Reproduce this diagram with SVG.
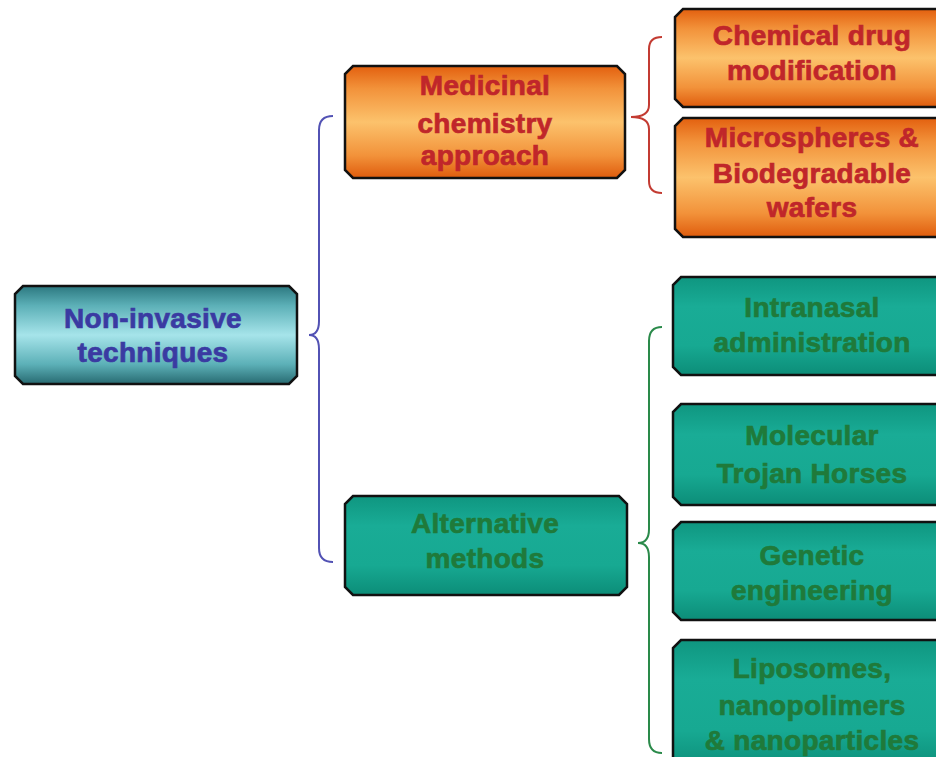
<svg xmlns="http://www.w3.org/2000/svg" width="936" height="757" viewBox="0 0 936 757">
<defs>
<linearGradient id="gTeal" x1="0" y1="0" x2="0" y2="1">
<stop offset="0" stop-color="#2c7880"/>
<stop offset="0.2" stop-color="#5cb0b7"/>
<stop offset="0.5" stop-color="#a6e4ea"/>
<stop offset="0.8" stop-color="#5cb0b7"/>
<stop offset="1" stop-color="#276a71"/>
</linearGradient>
<linearGradient id="gOrange" x1="0" y1="0" x2="0" y2="1">
<stop offset="0" stop-color="#e3600f"/>
<stop offset="0.2" stop-color="#f2923a"/>
<stop offset="0.5" stop-color="#fcc26c"/>
<stop offset="0.8" stop-color="#f2923a"/>
<stop offset="1" stop-color="#df5c0d"/>
</linearGradient>
<linearGradient id="gGreen" x1="0" y1="0" x2="0" y2="1">
<stop offset="0" stop-color="#0f9680"/>
<stop offset="0.3" stop-color="#19ac96"/>
<stop offset="0.7" stop-color="#17a992"/>
<stop offset="1" stop-color="#0c8d78"/>
</linearGradient>
<style>
.box{stroke:#111;stroke-width:2.5}
.teal{fill:url(#gTeal)}
.orange{fill:url(#gOrange)}
.green{fill:url(#gGreen)}
text{font-family:"Liberation Sans",Arial,sans-serif;font-weight:bold;font-size:28px;text-anchor:middle;letter-spacing:0.3px;stroke-width:0.7}
.tb{fill:#3a3aa2;stroke:#3a3aa2}
.tr{fill:#c0262a;stroke:#c0262a}
.tg{fill:#1f7a3a;stroke:#1f7a3a}
.brace{fill:none;stroke-width:2}
</style>
</defs>
<g id="connectors">
<path class="brace" stroke="#5252b4" d="M333,116 Q319,116 319,130 L319,321 Q319,335 309,335 Q319,335 319,349 L319,548 Q319,562 333,562"/>
<path class="brace" stroke="#c33b32" d="M662,37 Q649,37 649,49 L649,105 Q649,117 631,117 Q649,117 649,129 L649,181 Q649,193 662,193"/>
<path class="brace" stroke="#2a8a4a" d="M662,327 Q649,327 649,341 L649,529 Q649,543 638,543 Q649,543 649,557 L649,739 Q649,753 662,753"/>
</g>
<g id="non-invasive">
<path class="box teal" d="M23,286 H289 L297,294 V376 L289,384 H23 L15,376 V294 Z"/>
<text class="tb" x="153" y="328">Non-invasive</text>
<text class="tb" x="153" y="362">techniques</text>
</g>
<g id="medicinal">
<path class="box orange" d="M353,66 H617 L625,74 V170 L617,178 H353 L345,170 V74 Z"/>
<text class="tr" x="485" y="95">Medicinal</text>
<text class="tr" x="485" y="133">chemistry</text>
<text class="tr" x="485" y="165">approach</text>
</g>
<g id="alternative">
<path class="box green" d="M353,496 H619 L627,504 V587 L619,595 H353 L345,587 V504 Z"/>
<text class="tg" x="485" y="533">Alternative</text>
<text class="tg" x="485" y="568">methods</text>
</g>
<g id="chemical">
<path class="box orange" d="M683,9 H950 V107 H683 L675,99 V17 Z"/>
<text class="tr" x="812" y="45">Chemical drug</text>
<text class="tr" x="812" y="80">modification</text>
</g>
<g id="microspheres">
<path class="box orange" d="M683,118 H950 V237 H683 L675,229 V126 Z"/>
<text class="tr" x="812" y="147">Microspheres &amp;</text>
<text class="tr" x="812" y="183">Biodegradable</text>
<text class="tr" x="812" y="217">wafers</text>
</g>
<g id="intranasal">
<path class="box green" d="M681,277 H950 V375 H681 L673,367 V285 Z"/>
<text class="tg" x="812" y="317">Intranasal</text>
<text class="tg" x="812" y="352">administration</text>
</g>
<g id="molecular">
<path class="box green" d="M681,404 H950 V505 H681 L673,497 V412 Z"/>
<text class="tg" x="812" y="445">Molecular</text>
<text class="tg" x="812" y="483">Trojan Horses</text>
</g>
<g id="genetic">
<path class="box green" d="M681,522 H950 V620 H681 L673,612 V530 Z"/>
<text class="tg" x="812" y="565">Genetic</text>
<text class="tg" x="812" y="600">engineering</text>
</g>
<g id="liposomes">
<path class="box green" d="M681,640 H950 V770 H673 V648 Z"/>
<text class="tg" x="812" y="678">Liposomes,</text>
<text class="tg" x="812" y="715">nanopolimers</text>
<text class="tg" x="812" y="750">&amp; nanoparticles</text>
</g>
</svg>
